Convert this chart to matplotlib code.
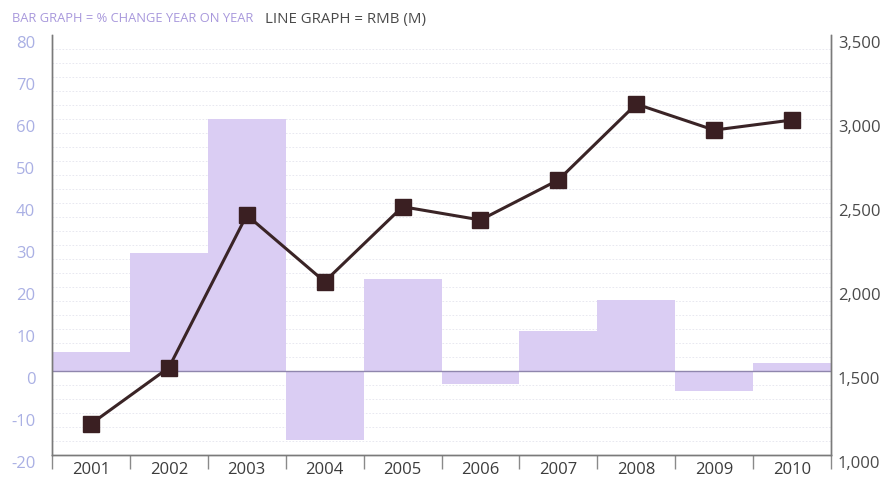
import matplotlib
matplotlib.use("Agg")
import matplotlib.pyplot as plt
import matplotlib.transforms as mtransforms
import numpy as np

years = ["2001", "2002", "2003", "2004", "2005", "2006", "2007", "2008", "2009", "2010"]
pct_change = [4.5, 28, 60, -16.5, 22, -3, 9.5, 17, -4.7, 2]
rmb_m = [1185, 1520, 2428, 2032, 2478, 2399, 2637, 3089, 2934, 2994]
left_ticks = [-20, -10, 0, 10, 20, 30, 40, 50, 60, 70, 80]
right_ticks = [1000, 1500, 2000, 2500, 3000, 3500]
right_labels = ["1,000", "1,500", "2,000", "2,500", "3,000", "3,500"]

plt.rcParams['font.family'] = ['Open Sans', 'DejaVu Sans']

fig = plt.figure(figsize=(8.92, 4.8), dpi=100)
ax = fig.add_axes([52/892, 25/480, (831-52)/892, (455-35)/480])
ax2 = ax.twinx()

x = np.arange(len(years))
# faint background lines
for yv in np.arange(-20, 80, 10/3):
    ax.axhline(yv, color="#e4e4ee", lw=0.6, ls=(0, (2, 2)), zorder=0)

ax.bar(x, pct_change, width=1.0, color="#dacdf3", edgecolor="none", zorder=1)
ax.axhline(0, color="#8f86ad", lw=1.0, zorder=2)
ax.set_xlim(-0.5, len(years) - 0.5)
ax.set_ylim(-20, 80)
ax.set_yticks(left_ticks)
ax.set_yticklabels([str(v) for v in left_ticks])
ax.tick_params(axis="y", length=0, labelsize=12, labelcolor="#aab0e4", pad=12)

ax.set_xticks(x)
ax.set_xticklabels(years)
ax.set_xticks(np.arange(-0.5, len(years)), minor=True)
ax.tick_params(axis="x", which="major", length=0, labelsize=12, labelcolor="#3c3c3c", pad=5)
ax.tick_params(axis="x", which="minor", length=10, width=1, color="#8a8a8a", direction="out")

ax2.plot(x, rmb_m, color="#3a2426", lw=2.2, marker="s", markersize=11,
         markerfacecolor="#3a1f22", markeredgecolor="#3a1f22", zorder=5)
ax2.set_ylim(1000, 3500)
ax2.set_yticks(right_ticks)
ax2.set_yticklabels(right_labels)
ax2.tick_params(axis="y", length=0, labelsize=12, labelcolor="#4a4a4a", pad=5)

for a in (ax, ax2):
    a.spines["top"].set_visible(False)
    for s in ("left", "right", "bottom"):
        a.spines[s].set_color("#7a7a7a")
        a.spines[s].set_linewidth(1.0)
ax.set_zorder(ax2.get_zorder() - 1)
ax2.patch.set_visible(False)

off = mtransforms.ScaledTranslation(0, -7/100, fig.dpi_scale_trans)
for lab in ax.get_yticklabels():
    lab.set_transform(lab.get_transform() + off)
for lab in ax2.get_yticklabels():
    lab.set_transform(lab.get_transform() + off)

fig.text(12/892, 1 - 19/480, "BAR GRAPH = % CHANGE YEAR ON YEAR", color="#a898dc",
         fontsize=9.3, va="center", ha="left")
fig.text(265/892, 1 - 19/480, "LINE GRAPH = RMB (M)", color="#4a4a4a",
         fontsize=10.8, va="center", ha="left")

fig.savefig("out.png", dpi=100)
